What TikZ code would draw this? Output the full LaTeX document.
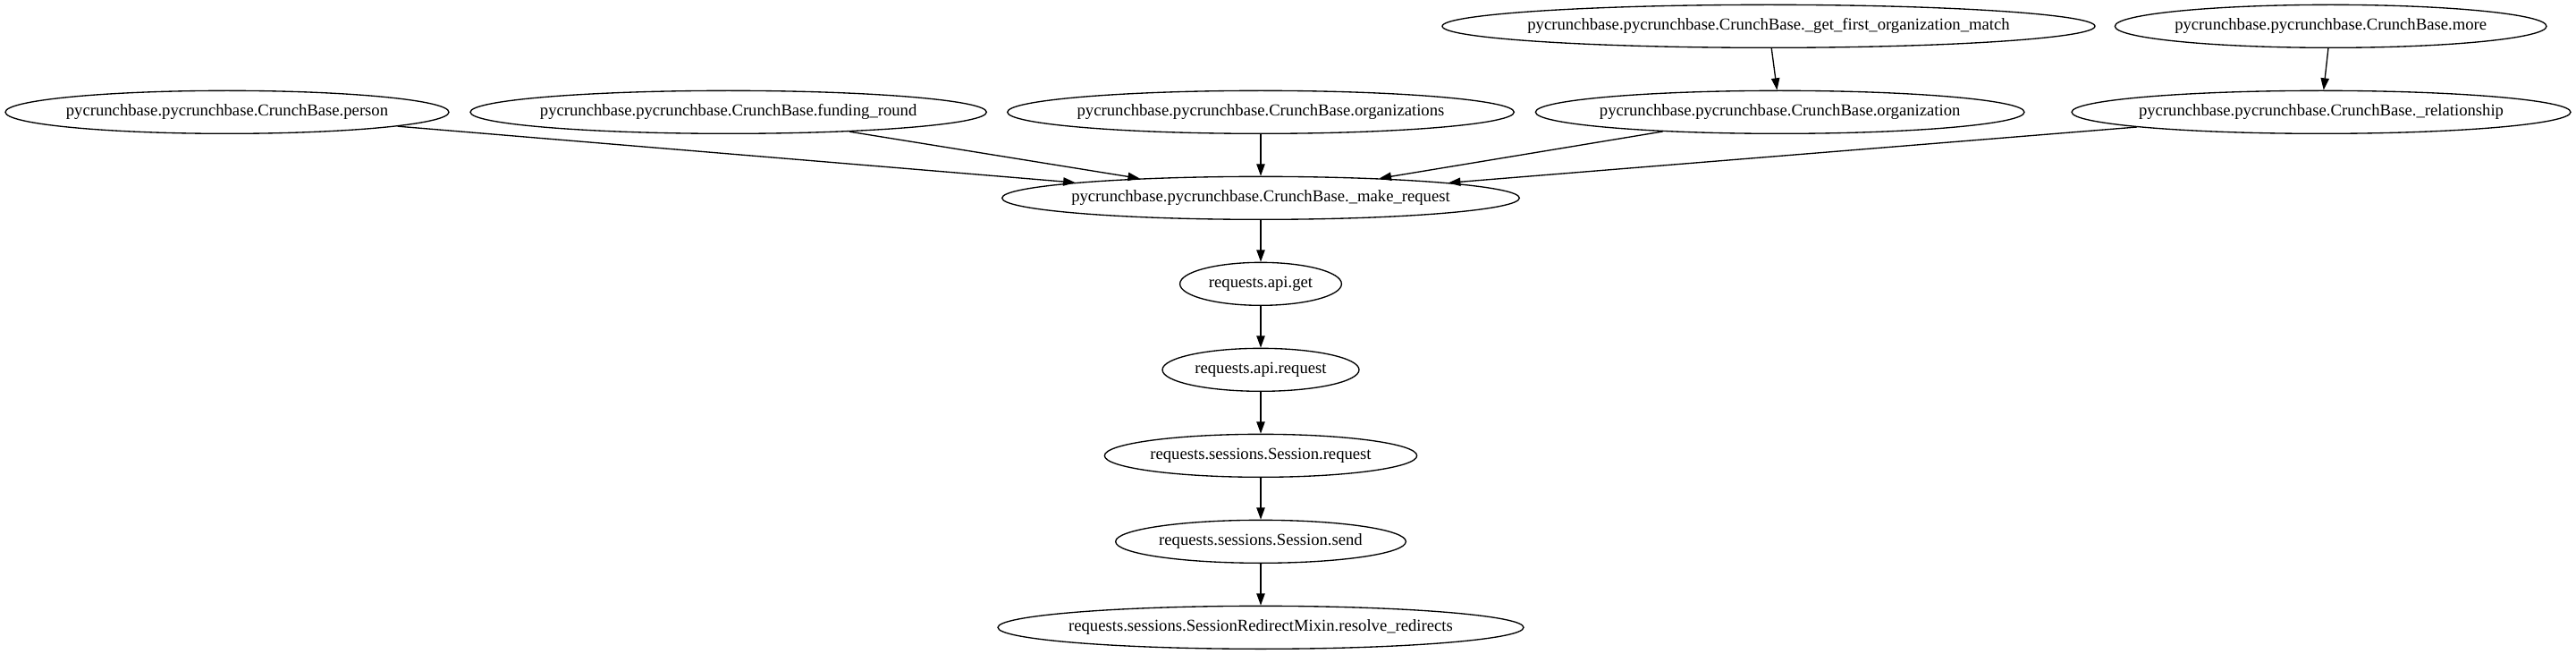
\documentclass[tikz,border=0pt]{standalone}
\usepackage{fontspec}
\setmainfont{Liberation Serif}
\usetikzlibrary{shapes.geometric,arrows.meta}

\begin{document}
\begin{tikzpicture}[x=1pt,y=1pt,
  fn/.style={draw,ellipse,line width=1pt,inner xsep=-12pt,inner ysep=0pt,minimum height=36pt,font=\fontsize{14}{16}\selectfont},
  call/.style={-{Triangle[length=10pt,width=7pt]},line width=1pt}]

\useasboundingbox (0,0) rectangle (2160.75,-548.25);

\node (firstmatch) at (1483.5,-22)[fn,minimum width=547.5pt]{pycrunchbase.pycrunchbase.CrunchBase.\_get\_first\_organization\_match};
\node (more) at (1955,-22)[fn,minimum width=362pt]{pycrunchbase.pycrunchbase.CrunchBase.more};

\node (person) at (190.5,-94)[fn,minimum width=372pt]{pycrunchbase.pycrunchbase.CrunchBase.person};
\node (fundinground) at (611,-94)[fn,minimum width=433pt]{pycrunchbase.pycrunchbase.CrunchBase.funding\_round};
\node (organizations) at (1057.5,-94)[fn,minimum width=425pt]{pycrunchbase.pycrunchbase.CrunchBase.organizations};
\node (organization) at (1493,-94)[fn,minimum width=410pt]{pycrunchbase.pycrunchbase.CrunchBase.organization};
\node (relationship) at (1947,-94)[fn,minimum width=418.5pt]{pycrunchbase.pycrunchbase.CrunchBase.\_relationship};

\node (makerequest) at (1057.5,-166)[fn,minimum width=434pt]{pycrunchbase.pycrunchbase.CrunchBase.\_make\_request};
\node (apiget) at (1057.5,-238)[fn,minimum width=135.6pt]{requests.api.get};
\node (apirequest) at (1057.5,-310)[fn,minimum width=165pt]{requests.api.request};
\node (sessrequest) at (1057.5,-382)[fn,minimum width=262pt]{requests.sessions.Session.request};
\node (sesssend) at (1057.5,-454)[fn,minimum width=243.5pt]{requests.sessions.Session.send};
\node (resolve) at (1057.5,-526)[fn,minimum width=441pt]{requests.sessions.SessionRedirectMixin.resolve\_redirects};

\draw[call] (firstmatch) -- (organization);
\draw[call] (more) -- (relationship);

\draw[call] (person) -- (makerequest);
\draw[call] (fundinground) -- (makerequest);
\draw[call] (organizations) -- (makerequest);
\draw[call] (organization) -- (makerequest);
\draw[call] (relationship) -- (makerequest);

\draw[call] (makerequest) -- (apiget);
\draw[call] (apiget) -- (apirequest);
\draw[call] (apirequest) -- (sessrequest);
\draw[call] (sessrequest) -- (sesssend);
\draw[call] (sesssend) -- (resolve);

\end{tikzpicture}
\end{document}
